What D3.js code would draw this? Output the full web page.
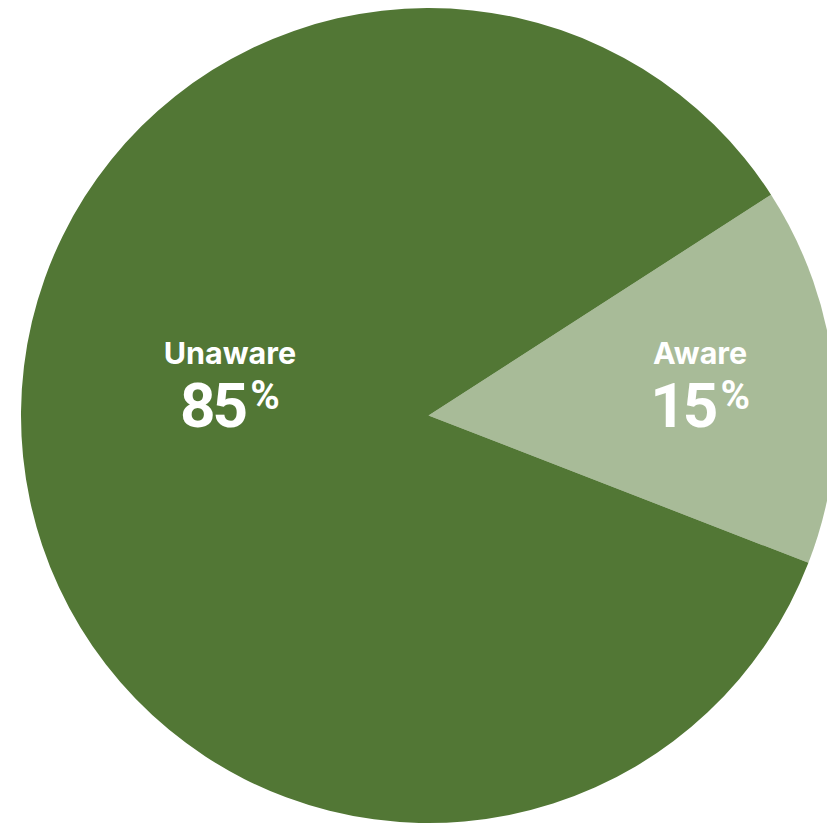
<!DOCTYPE html>
<html>
<head>
<meta charset="utf-8">
<script src="https://cdn.jsdelivr.net/npm/d3@7"></script>
<style>
  html, body { margin: 0; padding: 0; background: #ffffff; overflow: hidden; }
  svg { display: block; }
</style>
</head>
<body>
<div id="chart"></div>
<script>
const categories = ["Aware", "Unaware"];
const values = [15, 85];
const valueLabels = ["15", "85"];
const colors = ["#a8bb98", "#527735"];

const width = 827, height = 825;
const cx = 428.5, cy = 415.5, radius = 407.5;
const startDeg = 57.2;

const svg = d3.select("#chart").append("svg")
  .attr("width", width).attr("height", height);

const g = svg.append("g").attr("transform", `translate(${cx},${cy})`);

const pie = d3.pie().sort(null)
  .startAngle(startDeg * Math.PI / 180)
  .endAngle(startDeg * Math.PI / 180 + 2 * Math.PI);

const data = categories.map((c, i) => ({ name: c, value: values[i], label: valueLabels[i], color: colors[i] }));
const arcs = pie.value(d => d.value)(data);

const arc = d3.arc().innerRadius(0).outerRadius(radius);

g.selectAll("path.slice").data(arcs).enter().append("path")
  .attr("class", "slice")
  .attr("d", arc)
  .attr("fill", d => d.data.color);

const labelRadius = [0.67 * radius, 0.49 * radius];

const labels = g.selectAll("g.lbl").data(arcs).enter().append("g")
  .attr("class", "lbl")
  .attr("transform", (d, i) => {
    const a = (d.startAngle + d.endAngle) / 2;
    const x = Math.sin(a) * labelRadius[i];
    return `translate(${x},0)`;
  });

labels.append("text")
  .attr("text-anchor", "middle")
  .attr("y", -51.5)
  .attr("fill", "#ffffff")
  .style("font-family", "Inter, 'Open Sans', sans-serif")
  .style("font-weight", 700)
  .style("font-size", "30.5px")
  .text(d => d.data.name);

const num = labels.append("text")
  .attr("text-anchor", "middle")
  .attr("y", 11.5)
  .attr("fill", "#ffffff")
  .style("font-family", "Roboto, Inter, sans-serif")
  .style("font-weight", 700);

num.append("tspan")
  .style("font-size", "62px")
  .style("letter-spacing", "-3px")
  .text(d => d.data.label);
num.append("tspan")
  .attr("dy", -18)
  .attr("dx", 5)
  .style("font-size", "40px")
  .text("%");
</script>
</body>
</html>
